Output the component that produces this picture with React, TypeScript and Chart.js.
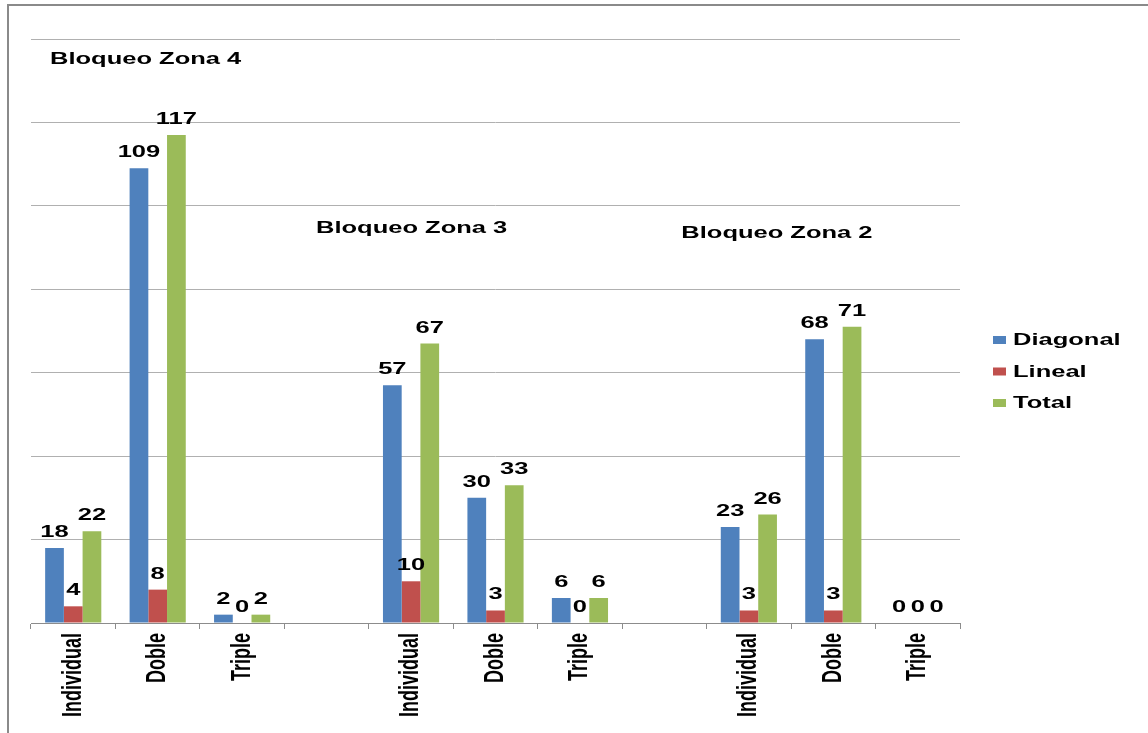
import React, { useEffect, useRef } from "react";
import { Chart, registerables } from "chart.js";

Chart.register(...registerables);

const categories = [
  "Individual", "Doble", "Triple", "",
  "Individual", "Doble", "Triple", "",
  "Individual", "Doble", "Triple",
];
const diagonal = [18, 109, 2, null, 57, 30, 6, null, 23, 68, 0];
const lineal = [4, 8, 0, null, 10, 3, 0, null, 3, 3, 0];
const total = [22, 117, 2, null, 67, 33, 6, null, 26, 71, 0];
const seriesNames = ["Diagonal", "Lineal", "Total"];
const zoneTitles = ["Bloqueo Zona 4", "Bloqueo Zona 3", "Bloqueo Zona 2"];
// anchor of each zone title, in data units: [category index, value]
const zoneTitleAnchors = [
  [-0.275, 134],
  [2.875, 93.5],
  [7.2, 92.2],
];

const COLORS = ["#4F81BD", "#C0504D", "#9BBB59"];
const STRETCH = 1.5;
const BOLD = "bold 17px 'Liberation Sans', Arial, sans-serif";

function stretchedText(ctx: CanvasRenderingContext2D, text: string, x: number, y: number, align: "left" | "center") {
  ctx.save();
  ctx.translate(x, y);
  ctx.scale(STRETCH, 1);
  ctx.textAlign = align;
  ctx.textBaseline = "alphabetic";
  ctx.fillText(text, 0, 0);
  ctx.restore();
}

const labelsPlugin = {
  id: "customLabels",
  afterDraw(chart: any) {
    const ctx = chart.ctx as CanvasRenderingContext2D;
    ctx.save();
    ctx.fillStyle = "#000";
    ctx.font = BOLD;
    chart.data.datasets.forEach((ds: any, di: number) => {
      const meta = chart.getDatasetMeta(di);
      meta.data.forEach((el: any, i: number) => {
        const v = ds.data[i];
        if (v === null || v === undefined) return;
        stretchedText(ctx, String(v), el.x, el.y - 11, "center");
      });
    });
    const xs = chart.scales.x;
    const ys = chart.scales.y;
    // category labels (rotated, read bottom to top)
    ctx.font = "bold 18px 'Liberation Sans', Arial, sans-serif";
    const labels = chart.data.labels as string[];
    labels.forEach((lab, i) => {
      if (!lab) return;
      const x = xs.getPixelForTick(i);
      ctx.save();
      ctx.translate(x, xs.bottom - xs.height + 10);
      ctx.rotate(-Math.PI / 2);
      ctx.scale(1, STRETCH);
      ctx.textAlign = "right";
      ctx.textBaseline = "middle";
      ctx.fillText(lab, 0, 0);
      ctx.restore();
    });
    // zone titles
    ctx.font = BOLD;
    zoneTitles.forEach((t, i) => {
      const [cx, cv] = zoneTitleAnchors[i];
      stretchedText(ctx, t, xs.getPixelForValue(cx), ys.getPixelForValue(cv), "left");
    });
    // legend
    const area = chart.chartArea;
    const lx = area.right + 33;
    const baseY = (area.top + area.bottom) / 2 + 14;
    seriesNames.forEach((name, i) => {
      const by = baseY + i * 31.5;
      ctx.fillStyle = COLORS[i];
      ctx.fillRect(lx, by - 9, 13, 8);
      ctx.fillStyle = "#000";
      stretchedText(ctx, name, lx + 20, by, "left");
    });
    ctx.restore();
  },
};

export default function App() {
  const ref = useRef<HTMLCanvasElement>(null);
  useEffect(() => {
    if (!ref.current) return;
    const chart = new Chart(ref.current, {
      type: "bar",
      data: {
        labels: categories,
        datasets: [
          { label: seriesNames[0], data: diagonal, backgroundColor: COLORS[0] },
          { label: seriesNames[1], data: lineal, backgroundColor: COLORS[1] },
          { label: seriesNames[2], data: total, backgroundColor: COLORS[2] },
        ],
      },
      options: {
        animation: false,
        responsive: false,
        maintainAspectRatio: false,
        layout: { padding: { left: 31, right: 188, top: 39, bottom: 0 } },
        datasets: { bar: { categoryPercentage: 0.665, barPercentage: 1 } },
        plugins: { legend: { display: false }, tooltip: { enabled: false } },
        scales: {
          x: {
            afterFit: (s: any) => { s.height = 110; },
            grid: { drawOnChartArea: false, drawTicks: true, tickLength: 6, color: "#8c8c8c", offset: true },
            border: { display: true, color: "#8c8c8c", width: 1 },
            ticks: { display: false, autoSkip: false },
          },
          y: {
            min: 0,
            max: 140,
            afterFit: (s: any) => { s.width = 0; },
            ticks: { display: false, stepSize: 20 },
            grid: { color: "#b0b0b0", drawTicks: false },
            border: { display: false },
          },
        },
      },
      plugins: [labelsPlugin],
    } as any);
    return () => chart.destroy();
  }, []);
  return (
    <div style={{ position: "fixed", left: 0, top: 0, width: 1148, height: 733, background: "#fff" }}>
      <canvas ref={ref} width={1148} height={733} style={{ position: "absolute", left: 0, top: 0 }} />
      <div
        style={{
          position: "absolute",
          left: 7,
          top: 4,
          width: 1141,
          height: 729,
          borderTop: "2px solid #8a8a8a",
          borderLeft: "2px solid #8a8a8a",
          boxSizing: "border-box",
          pointerEvents: "none",
        }}
      />
    </div>
  );
}
